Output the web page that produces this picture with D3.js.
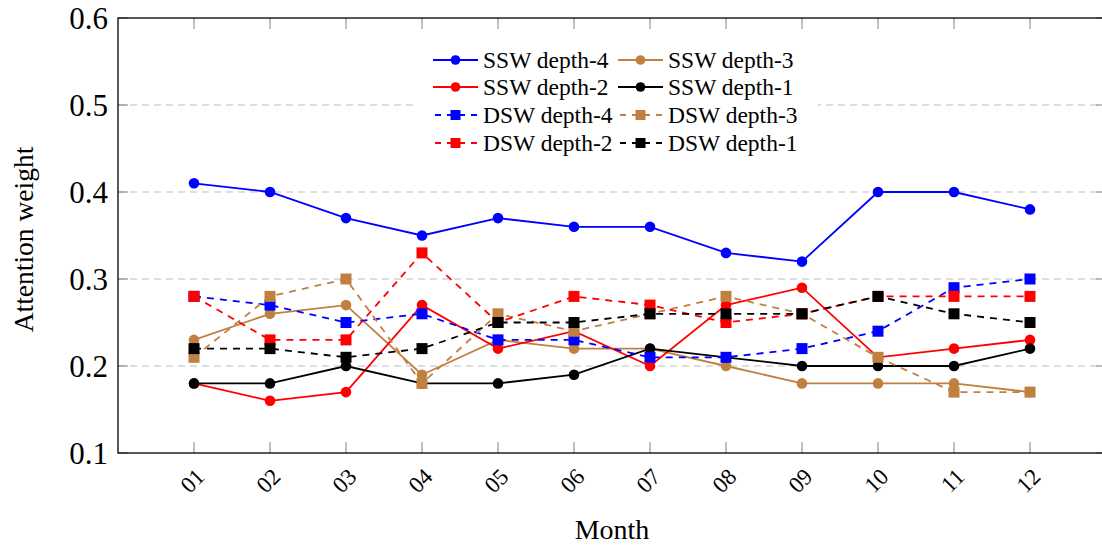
<!DOCTYPE html>
<html><head><meta charset="utf-8">
<script src="https://cdn.jsdelivr.net/npm/d3@7"></script>
<style>
html,body{margin:0;padding:0;background:#fff;}
svg{display:block;font-family:"Liberation Serif","Times New Roman",serif;}
</style></head>
<body><svg id="chart" width="1102" height="546"></svg>
<script>
const months = ["01","02","03","04","05","06","07","08","09","10","11","12"];
const yTicks = [0.1,0.2,0.3,0.4,0.5,0.6];
const seriesNames = ["SSW depth-4","SSW depth-3","SSW depth-2","SSW depth-1","DSW depth-4","DSW depth-3","DSW depth-2","DSW depth-1"];
const sswDepth4 = [0.41,0.40,0.37,0.35,0.37,0.36,0.36,0.33,0.32,0.40,0.40,0.38];
const sswDepth3 = [0.23,0.26,0.27,0.19,0.23,0.22,0.22,0.20,0.18,0.18,0.18,0.17];
const sswDepth2 = [0.18,0.16,0.17,0.27,0.22,0.24,0.20,0.27,0.29,0.21,0.22,0.23];
const sswDepth1 = [0.18,0.18,0.20,0.18,0.18,0.19,0.22,0.21,0.20,0.20,0.20,0.22];
const dswDepth4 = [0.28,0.27,0.25,0.26,0.23,0.23,0.21,0.21,0.22,0.24,0.29,0.30];
const dswDepth3 = [0.21,0.28,0.30,0.18,0.26,0.24,0.26,0.28,0.26,0.21,0.17,0.17];
const dswDepth2 = [0.28,0.23,0.23,0.33,0.25,0.28,0.27,0.25,0.26,0.28,0.28,0.28];
const dswDepth1 = [0.22,0.22,0.21,0.22,0.25,0.25,0.26,0.26,0.26,0.28,0.26,0.25];

const seriesValues = [sswDepth4,sswDepth3,sswDepth2,sswDepth1,dswDepth4,dswDepth3,dswDepth2,dswDepth1];
const colors = ["#0000ff","#bf8040","#ff0000","#000000","#0000ff","#bf8040","#ff0000","#000000"];
const series = seriesNames.map((n,i)=>({name:n, values:seriesValues[i], color:colors[i], dashed:n.startsWith("DSW")}));

const svg = d3.select("#chart");
const L=118, R=1106, T=18, B=453;
const x = d3.scaleLinear().domain([0,13]).range([L,R]);
const y = d3.scaleLinear().domain([0.1,0.6]).range([B,T]);

// grid
svg.append("g").selectAll("line").data(yTicks.filter(t=>t>0.1&&t<0.6)).join("line")
  .attr("x1",L).attr("x2",R).attr("y1",d=>y(d)).attr("y2",d=>y(d))
  .attr("stroke","#bdbdbd").attr("stroke-width",1).attr("stroke-dasharray","7,5");

// ticks inward
const tg = svg.append("g").attr("stroke","#808080").attr("stroke-width",1);
yTicks.forEach(t=>{
  tg.append("line").attr("x1",L).attr("x2",L+10).attr("y1",y(t)).attr("y2",y(t));
  tg.append("line").attr("x1",R).attr("x2",R-10).attr("y1",y(t)).attr("y2",y(t));
});
months.forEach((m,i)=>{
  tg.append("line").attr("x1",x(i+1)).attr("x2",x(i+1)).attr("y1",B).attr("y2",B-11);
  tg.append("line").attr("x1",x(i+1)).attr("x2",x(i+1)).attr("y1",T).attr("y2",T+11);
});

// frame
svg.append("rect").attr("x",L).attr("y",T).attr("width",R-L).attr("height",B-T)
  .attr("fill","none").attr("stroke","#000").attr("stroke-width",1.3);

// y tick labels
svg.append("g").selectAll("text").data(yTicks).join("text")
  .attr("x",L-10).attr("y",d=>y(d)).attr("dy","0.34em").attr("text-anchor","end")
  .attr("font-size",31).text(d=>d.toFixed(1));

// x tick labels
svg.append("g").selectAll("text").data(months).join("text")
  .attr("transform",(d,i)=>`translate(${x(i+1)+12},478) rotate(-45)`)
  .attr("text-anchor","end").attr("font-size",23).text(d=>d);

// axis titles
svg.append("text").attr("x",(L+R)/2).attr("y",539).attr("text-anchor","middle")
  .attr("font-size",28).text("Month");
svg.append("text").attr("transform",`translate(33,${(T+B)/2+4}) rotate(-90)`)
  .attr("text-anchor","middle").attr("font-size",27.5).text("Attention weight");

// series
const line = d3.line().x((d,i)=>x(i+1)).y(d=>y(d));
series.forEach(s=>{
  const g = svg.append("g");
  g.append("path").attr("d",line(s.values)).attr("fill","none")
    .attr("stroke",s.color).attr("stroke-width",1.8)
    .attr("stroke-dasharray",s.dashed?"7,6":null);
  if(s.dashed){
    g.selectAll("rect").data(s.values).join("rect")
      .attr("x",(d,i)=>x(i+1)-5.5).attr("y",d=>y(d)-5.5)
      .attr("width",11).attr("height",11).attr("fill",s.color);
  } else {
    g.selectAll("circle").data(s.values).join("circle")
      .attr("cx",(d,i)=>x(i+1)).attr("cy",d=>y(d)).attr("r",5.3).attr("fill",s.color);
  }
});

// legend
const lg = svg.append("g");
lg.append("rect").attr("x",418).attr("y",42).attr("width",400).attr("height",116).attr("fill","#fff");
const colX = [433,618], rowY = [60,87,115,143];
series.forEach((s,i)=>{
  const cx = colX[i%2], cy = rowY[Math.floor(i/2)];
  lg.append("line").attr("x1",cx).attr("x2",cx+45).attr("y1",cy).attr("y2",cy)
    .attr("stroke",s.color).attr("stroke-width",1.8)
    .attr("stroke-dasharray",s.dashed?"6,6":null).attr("stroke-dashoffset",s.dashed?-2:null);
  if(s.dashed){
    lg.append("rect").attr("x",cx+22.5-5).attr("y",cy-5).attr("width",10).attr("height",10).attr("fill",s.color);
  } else {
    lg.append("circle").attr("cx",cx+22.5).attr("cy",cy).attr("r",4.8).attr("fill",s.color);
  }
  lg.append("text").attr("x",cx+50).attr("y",cy).attr("dy","0.33em")
    .attr("font-size",23.5).text(s.name);
});
</script></body></html>
